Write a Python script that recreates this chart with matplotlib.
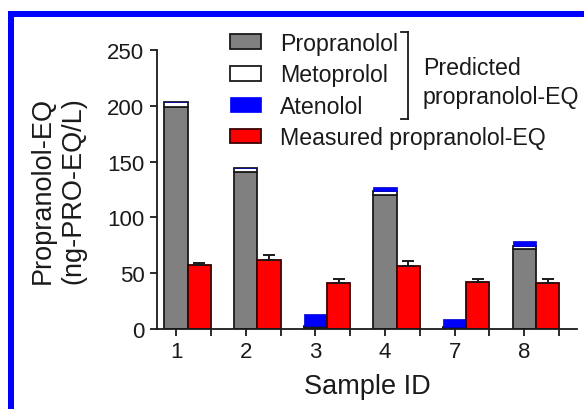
import matplotlib
matplotlib.use("Agg")
import matplotlib.pyplot as plt
from matplotlib.patches import Patch, Rectangle
from matplotlib.lines import Line2D
import numpy as np

plt.rcParams['font.family'] = ['Liberation Sans', 'DejaVu Sans']

samples = ["1", "2", "3", "4", "7", "8"]
propranolol = [199, 140.5, 1.5, 120, 1.0, 71.5]
metoprolol = [4, 3.8, 1.0, 3.5, 0.8, 3.0]
atenolol = [0, 0, 11, 3.7, 7.3, 4.0]
measured = [57.5, 61.5, 41, 56.5, 42, 41]
measured_err = [1.5, 4.5, 3.5, 4, 3, 4]

W, H = 584, 410
fig = plt.figure(figsize=(W / 100, H / 100), dpi=100)
ax = fig.add_axes([157 / W, (H - 330) / H, 420 / W, 279 / H])

n = len(samples)
xg = np.arange(n) * 3.0
xr = xg + 1.0
bw = 1.0
lw = 1.3
ec = "#1a1a1a"

ax.bar(xg, propranolol, width=bw, color="#808080", edgecolor=ec, linewidth=lw)
b2 = np.array(propranolol)
ax.bar(xg, metoprolol, width=bw, bottom=b2, color="white", edgecolor=ec, linewidth=lw)
b3 = b2 + np.array(metoprolol)
ax.bar(xg, atenolol, width=bw, bottom=b3, color="#0000ff", edgecolor="#0000cc", linewidth=0.5)
ax.bar(xr, measured, width=bw, color="#ff0000", edgecolor="#3a0000", linewidth=lw)
ax.errorbar(xr, measured, yerr=[np.zeros(n), measured_err], fmt="none",
            ecolor=ec, elinewidth=1.4, capsize=4, capthick=1.4)

ax.set_xlim(-0.82, xr[-1] + 0.5 + 0.77)
ax.set_ylim(0, 250)
ax.set_yticks([0, 50, 100, 150, 200, 250])
ax.set_xticks(xg)
ax.set_xticklabels(samples)
ax.set_xticks(xr + 0.5, minor=True)
for s in ["top", "right"]:
    ax.spines[s].set_visible(False)
for s in ["left", "bottom"]:
    ax.spines[s].set_linewidth(1.3)
    ax.spines[s].set_color(ec)
ax.tick_params(axis="both", which="both", direction="out", length=5, width=1.3,
               color=ec, labelsize=16, labelcolor=ec)
ax.tick_params(axis="x", which="both", pad=4)
ax.tick_params(axis="y", pad=4)

ax.set_ylabel("Propranolol-EQ\n(ng-PRO-EQ/L)", fontsize=19.5, color=ec, linespacing=1.25)
ax.yaxis.label.set_verticalalignment("center")
ax.yaxis.set_label_coords(-0.235, 0.5)
ax.set_xlabel("Sample ID", fontsize=19.5, color=ec)
ax.xaxis.label.set_verticalalignment("center")
ax.xaxis.set_label_coords(0.5, (330 - 387) / 279)

handles = [
    Patch(facecolor="#808080", edgecolor=ec, linewidth=1.3, label="Propranolol"),
    Patch(facecolor="white", edgecolor=ec, linewidth=1.3, label="Metoprolol"),
    Patch(facecolor="#0000ff", edgecolor="#0000ff", linewidth=0.5, label="Atenolol"),
    Patch(facecolor="#ff0000", edgecolor="#3a0000", linewidth=1.3, label="Measured propranolol-EQ"),
]
leg = ax.legend(handles=handles, loc="upper left", bbox_to_anchor=(230 / W, 1 - 33 / H),
                bbox_transform=fig.transFigure, frameon=False, fontsize=16.7,
                handlelength=1.35, handleheight=0.6, handletextpad=0.8,
                labelspacing=0.36, borderpad=0, borderaxespad=0)
for t in leg.get_texts():
    t.set_color(ec)

# bracket
bx, bt, bb, bl = 408, 33, 120, 401
fig.add_artist(Line2D([bx / W, bx / W], [1 - bt / H, 1 - bb / H], color=ec, lw=1.3, transform=fig.transFigure))
fig.add_artist(Line2D([bl / W, bx / W], [1 - bt / H, 1 - bt / H], color=ec, lw=1.3, transform=fig.transFigure))
fig.add_artist(Line2D([bl / W, bx / W], [1 - bb / H, 1 - bb / H], color=ec, lw=1.3, transform=fig.transFigure))
fig.text(423 / W, 1 - 83 / H, "Predicted\npropranolol-EQ", ha="left", va="center",
         fontsize=16.7, color=ec, linespacing=1.3)

# blue frame
fig.add_artist(Rectangle((8 / W, 0), 6 / W, (H - 12) / H, transform=fig.transFigure,
                         facecolor="#0000ff", edgecolor="none"))
fig.add_artist(Rectangle((8 / W, (H - 18) / H), (W - 8) / W, 6 / H, transform=fig.transFigure,
                         facecolor="#0000ff", edgecolor="none"))

fig.savefig("out.png", dpi=100)
